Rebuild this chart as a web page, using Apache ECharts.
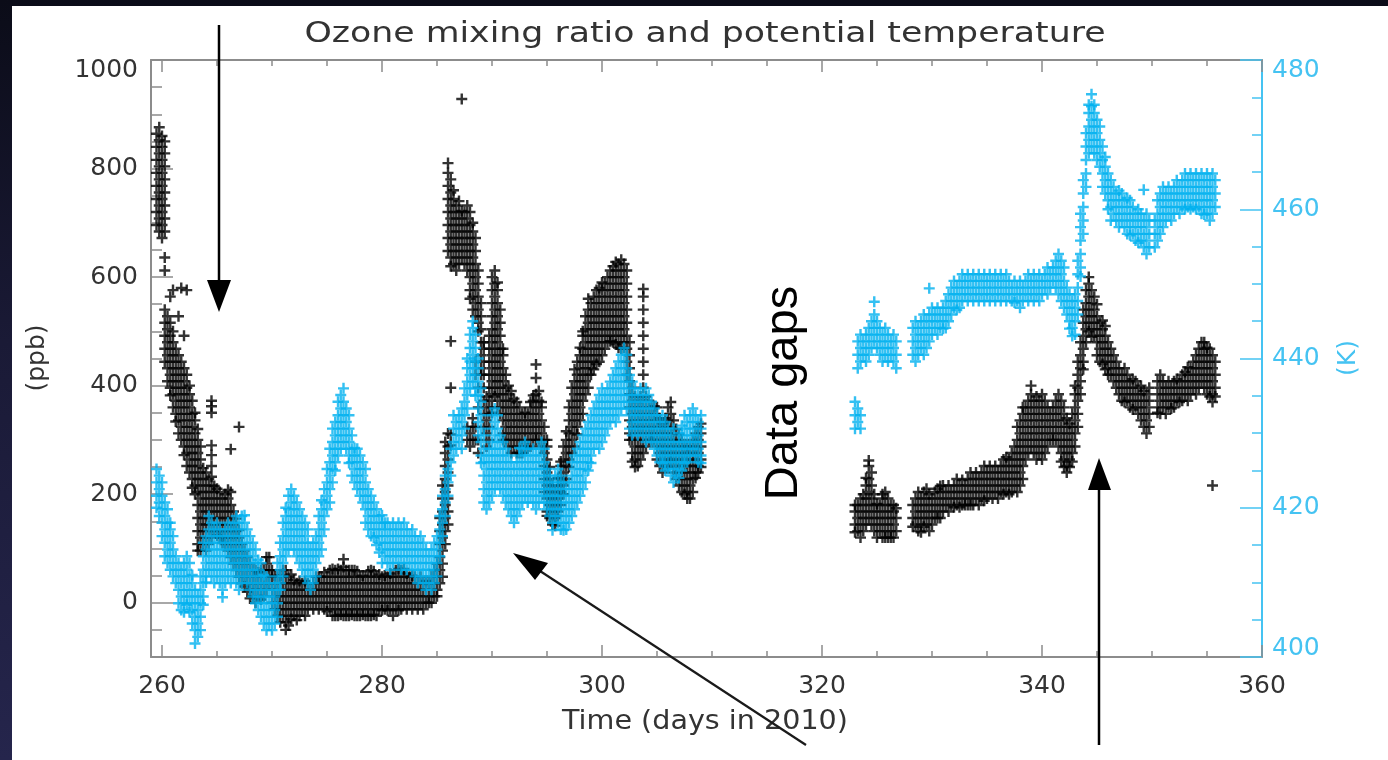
<!DOCTYPE html>
<html>
<head>
<meta charset="utf-8">
<title>Ozone mixing ratio and potential temperature</title>
<script src="https://cdn.jsdelivr.net/npm/echarts@6/dist/echarts.min.js"></script>
<style>
  html, body { margin: 0; padding: 0; }
  body { width: 1388px; height: 760px; background: linear-gradient(180deg, #0b0c18 0%, #1a1a36 45%, #25254c 100%); }
  #main { width: 1388px; height: 760px; }
</style>
</head>
<body>
<div id="main"></div>
<script>
// tick labels
var dayTicks = [260, 280, 300, 320, 340, 360];
var dayMinor = [265, 270, 275, 285, 290, 295, 305, 310, 315, 325, 330, 335, 345, 350, 355];
var ozoneTicks = [0, 200, 400, 600, 800, 1000];
var ozoneMinor = [-50, 50, 100, 150, 250, 300, 350, 450, 500, 550, 650, 700, 750, 850, 900, 950];
var thetaTicks = [400, 420, 440, 460, 480];
var thetaMinor = [405, 410, 415, 425, 430, 435, 445, 450, 455, 465, 470, 475];

// ozone (ppb): each row = [day, readings...]
var ozoneRowsA = [
  [259.5, 696,720,744,768,792,816,840,864],
  [259.75, 684,708,732,756,780,804,828,852,876],
  [260, 672,696,720,744,768,792,816,840,860],
  [260.25, 684,708,732,756,780,804,828,850,612,636,444,468,492,516,540],
  [260.5, 408,432,456,480,504,528],
  [260.75, 396,420,444,468,492,516,564,382],
  [261, 360,384,408,432,456,480,500,576],
  [261.25, 348,372,396,420,444,468,334],
  [261.5, 312,336,360,384,408,432,456,528],
  [261.75, 300,324,348,372,396,420,444,580],
  [262, 288,312,336,360,384,408,432,272,492],
  [262.25, 252,276,300,324,348,372,396,420,576],
  [262.5, 240,264,288,312,336,360,384,400],
  [262.75, 228,252,276,300,324,348,372,212],
  [263, 216,240,264,288,312,336,350,200],
  [263.25, 108,132,156,180,204,228,252,276,300,320,96],
  [263.5, 96,120,144,168,192,216,240,264,288],
  [263.75, 108,132,156,180,204,228,248],
  [264, 96,120,144,168,192,216,240],
  [264.25, 108,132,156,180,204,228],
  [264.5, 120,144,168,192,216,232,252,272,290,350,362,372],
  [264.75, 132,156,180,204,215],
  [265, 124,144,168,192,210],
  [265.25, 132,156,180,204,120],
  [265.5, 120,144,168,192,110],
  [265.75, 108,132,156,180,200],
  [266, 96,120,144,168,192,208],
  [266.25, 84,108,132,156,180,204,283],
  [266.5, 72,96,120,144,168],
  [266.75, 60,84,108,132,155],
  [267, 48,72,96,120,134,324],
  [267.25, 36,60,84,108],
  [267.5, 30,48,72,96],
  [267.75, 20,36,60,84],
  [268, 8,24,48,72],
  [268.25, 12,36,60],
  [268.5, 0,24,48,60],
  [268.75, 12,36,56],
  [269, 6,24,48,60],
  [269.25, 12,36,60],
  [269.5, 24,48,72,84],
  [269.75, 36,60,84],
  [270, 0,24,48,60],
  [270.25, -12,12,36,50],
  [270.5, -24,0,24,48],
  [270.75, -36,-12,12,36,50],
  [271, -24,0,24,48,60],
  [271.25, -50,-36,-12,12,36,60],
  [271.5, -42,-24,0,24,48],
  [271.75, -30,-12,12,36,52],
  [272, -24,0,24,42],
  [272.25, -32,-12,12,36],
  [272.5, -24,0,24,40],
  [272.75, -12,12,36],
  [273, -24,0,24,40],
  [273.25, -12,12,36],
  [273.5, 0,24],
  [273.75, -12,12,36],
  [274, 0,24,48],
  [274.25, -12,12,36,48],
  [274.5, 0,24,48],
  [274.75, -12,12,36,56],
  [275, -16,0,24,48],
  [275.25, -12,12,36,60],
  [275.5, -24,0,24,48,62],
  [275.75, -24,-12,12,36,60],
  [276, -24,0,24,48,62],
  [276.25, -22,-12,12,36,60],
  [276.5, -24,0,24,48,66,80],
  [276.75, -24,-12,12,36,60],
  [277, -24,0,24,48,60],
  [277.25, -22,-12,12,36,60],
  [277.5, -24,0,24,48,60],
  [277.75, -24,-12,12,36,58],
  [278, -24,0,24,48],
  [278.25, -22,-12,12,36,50],
  [278.5, -24,0,24,48],
  [278.75, -24,-12,12,36,58],
  [279, -24,0,24,48,60],
  [279.25, -22,-12,12,36,58],
  [279.5, -24,0,24,48],
  [279.75, -12,12,36,52],
  [280, -14,0,24,48],
  [280.25, -12,12,36,50],
  [280.5, -14,0,24,48],
  [280.75, -12,12,36,54],
  [281, -24,0,24,48],
  [281.25, -12,12,36,60],
  [281.5, -14,0,24,48,62],
  [281.75, -12,12,36,60],
  [282, 0,24,48,62],
  [282.25, -12,12,36,54],
  [282.5, 0,24,48],
  [282.75, -12,12,36,50],
  [283, 0,24,48],
  [283.25, -12,12,36],
  [283.5, 0,24,48],
  [283.75, -12,12,36],
  [284, 0,24,40],
  [284.25, 0,12,36],
  [284.5, 0,24,48],
  [284.75, 12,36,60],
  [285, 12,24,48,72],
  [285.25, 36,60,84,108,132,156],
  [285.5, 48,72,96,120,144,168,192,216],
  [285.75, 108,132,156,180,204,228,252,276,296],
  [286, 144,168,192,216,240,264,288,312,648,672,696,720,744,768,792,810],
  [286.25, 636,660,684,708,732,756,780,620,290,310,396,482],
  [286.5, 624,648,672,696,720,744,760],
  [286.75, 612,636,660,684,708,732],
  [287, 624,648,672,696,720,740],
  [287.25, 636,660,684,708,722,928],
  [287.5, 624,648,672,696,720],
  [287.75, 612,636,660,684,708,732,300,324],
  [288, 576,600,624,648,672,696,720,560,288,312],
  [288.25, 540,564,588,612,636,660,684,700,300,324,340],
  [288.5, 528,552,576,600,624,648,672,300,324,420,444],
  [288.75, 516,540,564,588,612,500,276,300,360,396],
  [289, 432,456,480,504,528,552,420],
  [289.25, 324,348,372,396,420,444,468,480],
  [289.5, 288,312,336,360,380],
  [289.75, 300,324,348,372,396,420,444,468,492],
  [290, 360,384,408,432,456,480,504,528,552,576,600,350],
  [290.25, 396,420,444,468,492,516,540,564,588,612,380],
  [290.5, 360,384,408,432,456,480,504,528,552,576,590],
  [290.75, 348,372,396,420,444,468,492,516,540],
  [291, 312,336,360,384,408,432,456,468,300],
  [291.25, 300,324,348,372,396,420],
  [291.5, 288,312,336,360,384,400],
  [291.75, 276,300,324,348,372,390],
  [292, 288,312,336,360,376],
  [292.25, 276,300,324,348,370],
  [292.5, 288,312,336,360,276],
  [292.75, 276,300,324,348],
  [293, 288,312,336,350],
  [293.25, 300,324,348,284],
  [293.5, 288,312,336,360,370],
  [293.75, 300,324,348,372,382],
  [294, 312,336,360,384,300,414,439],
  [294.25, 300,324,348,372,390],
  [294.5, 288,312,336,360,370],
  [294.75, 204,228,252,276,300,324],
  [295, 168,192,216,240,264,288,300,160],
  [295.25, 156,180,204,228,250],
  [295.5, 144,168,192,216],
  [295.75, 156,180,204,142],
  [296, 168,192,216,230,160],
  [296.25, 180,204,228,252,260],
  [296.5, 216,240,264,288,200],
  [296.75, 228,252,276,300,316],
  [297, 264,288,312,336,360,250],
  [297.25, 276,300,324,348,372,396],
  [297.5, 288,312,336,360,384,408,430],
  [297.75, 324,348,372,396,420,444,310],
  [298, 336,360,384,408,432,456,470],
  [298.25, 348,372,396,420,444,468,492,500],
  [298.5, 384,408,432,456,480,504,528],
  [298.75, 396,420,444,468,492,516,540,560],
  [299, 432,456,480,504,528,552,420],
  [299.25, 444,468,492,516,540,564,430],
  [299.5, 456,480,504,528,552,576,440],
  [299.75, 444,468,492,516,540,564,580],
  [300, 456,480,504,528,552,576,590],
  [300.25, 468,492,516,540,564,588],
  [300.5, 480,504,528,552,576,600],
  [300.75, 492,516,540,564,588,612,482],
  [301, 480,504,528,552,576,600,620],
  [301.25, 492,516,540,564,588,612,628,476],
  [301.5, 480,504,528,552,576,600,624,470],
  [301.75, 468,492,516,540,564,588,612,632],
  [302, 480,504,528,552,576,600,624,470],
  [302.25, 420,444,468,492,516,540,564,588,612],
  [302.5, 312,336,360,384,408,432,456,480,300],
  [302.75, 276,300,324,348,372,396,260],
  [303, 264,288,312,336,360,380,250],
  [303.25, 252,276,300,324,348,370],
  [303.5, 264,288,312,336,360,380],
  [303.75, 276,300,324,348,372,396,420,444,468,492,516,540,564,578],
  [304, 288,312,336,360,380],
  [304.25, 300,324,348,372],
  [304.5, 312,336,360,300],
  [304.75, 300,324,348,362],
  [305, 264,288,312,336,360],
  [305.25, 252,276,300,324,340],
  [305.5, 240,264,288,312,330],
  [305.75, 252,276,300,324,340],
  [306, 264,288,312,336,360,250],
  [306.25, 276,300,324,348,370,260],
  [306.5, 240,264,288,312,336],
  [306.75, 228,252,276,300,320],
  [307, 216,240,264,288,310],
  [307.25, 204,228,252,276,300],
  [307.5, 216,240,264,288,200],
  [307.75, 204,228,252,276,192,288],
  [308, 192,216,240,264,288],
  [308.25, 204,228,252,276,300],
  [308.5, 240,264,288,312,230],
  [308.75, 252,276,300,324,240],
  [309, 264,288,312,330,250]
];

var ozoneRowsB = [
  [323, 144,168,130,180],
  [323.25, 132,156,180],
  [323.5, 120,144,168,192],
  [323.75, 132,156,180,200],
  [324, 144,168,192,216,230],
  [324.25, 156,180,204,228,252,262],
  [324.5, 144,168,192,216,240],
  [324.75, 132,156,180,200],
  [325, 120,144,168,182],
  [325.25, 132,156,180],
  [325.5, 120,144,168,192,200],
  [325.75, 132,156,180,204,120],
  [326, 120,144,168,192],
  [326.25, 132,156,180,120],
  [326.5, 120,144,168,180],
  [326.75, 132,156,174],
  [328.25, 156,180,140],
  [328.5, 144,168,192],
  [328.75, 132,156,180,204],
  [329, 144,168,192,130],
  [329.25, 156,180,204,140],
  [329.5, 144,168,192,210],
  [329.75, 132,156,180,200],
  [330, 144,168,192],
  [330.25, 156,180,204],
  [330.5, 168,192,210,156],
  [330.75, 156,180,204,215],
  [331, 168,192,216],
  [331.25, 180,204],
  [331.5, 168,192,216],
  [331.75, 180,204],
  [332, 176,192,216],
  [332.25, 180,204,228],
  [332.5, 176,192,216],
  [332.75, 180,204,226],
  [333, 180,192,216],
  [333.25, 180,204,228],
  [333.5, 180,192,216,240],
  [333.75, 180,204,228],
  [334, 192,216,240],
  [334.25, 180,204,228],
  [334.5, 192,216,240],
  [334.75, 188,204,228,252],
  [335, 192,216,240],
  [335.25, 204,228,252],
  [335.5, 192,216,240],
  [335.75, 204,228,252],
  [336, 192,216,240],
  [336.25, 204,228,252],
  [336.5, 200,216,240,264],
  [336.75, 204,228,252,268],
  [337, 200,216,240,264],
  [337.25, 204,228,252,276],
  [337.5, 216,240,264,288],
  [337.75, 204,228,252,276,300,324],
  [338, 216,240,264,288,312,336],
  [338.25, 228,252,276,300,324,348,360],
  [338.5, 264,288,312,336,360],
  [338.75, 276,300,324,348,372],
  [339, 288,312,336,360,384,400],
  [339.25, 276,300,324,348,372],
  [339.5, 264,288,312,336,360,380],
  [339.75, 276,300,324,348,372],
  [340, 264,288,312,336,360,384],
  [340.25, 276,300,324,348,372],
  [340.5, 288,312,336,360],
  [340.75, 300,324,348],
  [341, 312,336,360,300],
  [341.25, 300,324,348,372],
  [341.5, 288,312,336,360,384],
  [341.75, 276,300,324,348,372,260],
  [342, 264,288,312,336,360,250],
  [342.25, 252,276,300,324,240,340],
  [342.5, 264,288,312,250,330],
  [342.75, 276,300,324,348,260],
  [343, 288,312,336,360,384,400],
  [343.25, 324,348,372,396,420,444],
  [343.5, 384,408,432,456,480],
  [343.75, 444,468,492,516,540,430],
  [344, 480,504,528,552,576],
  [344.25, 516,540,564,588,500,600],
  [344.5, 504,528,552,576,490],
  [344.75, 492,516,540,564],
  [345, 456,480,504,528,550],
  [345.25, 444,468,492,516],
  [345.5, 456,480,504,440,520],
  [345.75, 444,468,492,430,510],
  [346, 432,456,480,420],
  [346.25, 420,444,468],
  [346.5, 408,432,456],
  [346.75, 396,420,444],
  [347, 384,408,432],
  [347.25, 372,396,420],
  [347.5, 384,408,432,370],
  [347.75, 372,396,420],
  [348, 360,384,408],
  [348.25, 356,372,396,412],
  [348.5, 360,384,408],
  [348.75, 348,372,396],
  [349, 336,360,384,400],
  [349.25, 324,348,372,390],
  [349.5, 312,336,360,384],
  [349.75, 324,348,372,396],
  [350.5, 360,384,408,350],
  [350.75, 348,372,396,420],
  [351, 360,384,408],
  [351.25, 348,372,396],
  [351.5, 360,384,408],
  [351.75, 372,396,358],
  [352, 360,384,408],
  [352.25, 372,396,412],
  [352.5, 384,408,370],
  [352.75, 372,396,420],
  [353, 384,408,425],
  [353.25, 372,396,420,434],
  [353.5, 384,408,432],
  [353.75, 396,420,444],
  [354, 384,408,432,456],
  [354.25, 396,420,444,468],
  [354.5, 408,432,456,480],
  [354.75, 396,420,444,468,480],
  [355, 384,408,432,456,470],
  [355.25, 396,420,444,468,380],
  [355.5, 384,408,432,456,370,216],
  [355.75, 396,420,444,380]
];

// potential temperature (K): each row = [day, readings...]
var thetaRowsA = [
  [259.5, 421.6,423.4,425.2,420],
  [259.75, 418.9,420.7,422.5,424.3],
  [260, 416.2,418,419.8,421.6,423.4],
  [260.25, 413.5,415.3,417.1,418.9,420.7],
  [260.5, 412.6,414.4,416.2,418,419.8],
  [260.75, 411.7,413.5,415.3,417.1,418],
  [261, 410.8,412.6,414.4,416.2],
  [261.25, 409.9,411.7,413.5],
  [261.5, 407.2,409,410.8,412.6],
  [261.75, 406.3,408.1,409.9,411.7],
  [262, 407.2,409,410.8,412.6,406],
  [262.25, 408.1,409.9,411.7,413.5,407],
  [262.5, 407.2,409,410.8,412.6,406],
  [262.75, 404.5,406.3,408.1,409.9,411],
  [263, 401.8,403.6,405.4,407.2,409],
  [263.25, 402.7,404.5,406.3,408.1],
  [263.5, 403.6,405.4,407.2,409,410.8],
  [263.75, 408.1,409.9,411.7,413.5,415.3,407],
  [264, 410.8,412.6,414.4,416.2,410],
  [264.25, 411.7,413.5,415.3,417.1,418.9],
  [264.5, 410.8,412.6,414.4,416.2,418],
  [264.75, 409.9,411.7,413.5,415.3,417.1],
  [265, 410.8,412.6,414.4,416.2,418],
  [265.25, 409.9,411.7,413.5,415.3,417.1],
  [265.5, 409,410.8,412.6,414.4,416.2,408],
  [265.75, 409.9,411.7,413.5,415.3,417.1],
  [266, 410.8,412.6,414.4,416.2,418],
  [266.25, 409.9,411.7,413.5,415.3,417.1],
  [266.5, 410.8,412.6,414.4,416.2,418],
  [266.75, 409.9,411.7,413.5,415.3,417.1,418.9],
  [267, 409,410.8,412.6,414.4,416.2,418],
  [267.25, 409.9,411.7,413.5,415.3,417.1,418.9],
  [267.5, 410.8,412.6,414.4,416.2,418,419],
  [267.75, 409.9,411.7,413.5,415.3,417.1],
  [268, 409,410.8,412.6,414.4,416.2],
  [268.25, 408.1,409.9,411.7,413.5,415.3],
  [268.5, 407.2,409,410.8,412.6,414.4],
  [268.75, 406.3,408.1,409.9,411.7,413],
  [269, 405.4,407.2,409,410.8,412.6],
  [269.25, 404.5,406.3,408.1,409.9,411],
  [269.5, 403.6,405.4,407.2,409,410.8],
  [269.75, 404.5,406.3,408.1,409.9],
  [270, 403.6,405.4,407.2,409],
  [270.25, 404.5,406.3,408.1,409.9],
  [270.5, 405.4,407.2,409,410.8,412.6],
  [270.75, 409.9,411.7,413.5,415.3,409],
  [271, 410.8,412.6,414.4,416.2,418],
  [271.25, 413.5,415.3,417.1,418.9,420],
  [271.5, 414.4,416.2,418,419.8,421.6],
  [271.75, 415.3,417.1,418.9,420.7,422.5],
  [272, 414.4,416.2,418,419.8,421.6],
  [272.25, 413.5,415.3,417.1,418.9,420.7],
  [272.5, 412.6,414.4,416.2,418,419.8],
  [272.75, 411.7,413.5,415.3,417.1,418.9],
  [273, 410.8,412.6,414.4,416.2,418],
  [273.25, 409.9,411.7,413.5,415.3,417.1],
  [273.5, 409,410.8,412.6,414.4],
  [273.75, 409.9,411.7,413.5,415.3],
  [274, 410.8,412.6,414.4,416.2],
  [274.25, 413.5,415.3,417.1,418.9],
  [274.5, 414.4,416.2,418,419.8,421],
  [274.75, 417.1,418.9,420.7,422.5],
  [275, 419.8,421.6,423.4,425.2],
  [275.25, 420.7,422.5,424.3,426.1,427.9],
  [275.5, 423.4,425.2,427,428.8,430.6],
  [275.75, 426.1,427.9,429.7,431.5,425],
  [276, 427,428.8,430.6,432.4,434.2],
  [276.25, 427.9,429.7,431.5,433.3,435.1],
  [276.5, 428.8,430.6,432.4,434.2,436],
  [276.75, 427.9,429.7,431.5,433.3],
  [277, 427,428.8,430.6,432.4,426],
  [277.25, 424.3,426.1,427.9,429.7],
  [277.5, 423.4,425.2,427,428],
  [277.75, 422.5,424.3,426.1,427.9],
  [278, 421.6,423.4,425.2,427],
  [278.25, 420.7,422.5,424.3,426.1],
  [278.5, 418,419.8,421.6,423.4,425.2],
  [278.75, 417.1,418.9,420.7,422.5],
  [279, 416.2,418,419.8,421.6],
  [279.25, 417.1,418.9,420.7,416],
  [279.5, 416.2,418,419.8,415],
  [279.75, 415.3,417.1,418.9,414],
  [280, 412.6,414.4,416.2,418,419],
  [280.25, 413.5,415.3,417.1,418],
  [280.5, 412.6,414.4,416.2,418],
  [280.75, 411.7,413.5,415.3,417.1],
  [281, 412.6,414.4,416.2,418],
  [281.25, 413.5,415.3,417.1],
  [281.5, 412.6,414.4,416.2,418],
  [281.75, 411.7,413.5,415.3,417.1],
  [282, 412.6,414.4,416.2,418],
  [282.25, 411.7,413.5,415.3,417.1],
  [282.5, 412.6,414.4,416.2],
  [282.75, 411.7,413.5,415.3,417.1],
  [283, 410.8,412.6,414.4,416.2],
  [283.25, 409.9,411.7,413.5,415.3],
  [283.5, 410.8,412.6,414.4,416.2],
  [283.75, 409.9,411.7,413.5,415.3],
  [284, 409,410.8,412.6,414.4],
  [284.25, 409.9,411.7,413.5],
  [284.5, 409,410.8,412.6,414.4],
  [284.75, 409.9,411.7,413.5,415.3],
  [285, 410.8,412.6,414.4,416.2],
  [285.25, 413.5,415.3,417.1,418.9],
  [285.5, 416.2,418,419.8,421.6],
  [285.75, 418.9,420.7,422.5,424.3],
  [286, 421.6,423.4,425.2],
  [286.25, 424.3,426.1,427.9],
  [286.5, 427,428.8,430.6,432.4],
  [286.75, 427.9,429.7,431.5],
  [287, 428.8,430.6,432.4],
  [287.25, 427.9,429.7,431.5,433.3],
  [287.5, 430.6,432.4,434.2,436],
  [287.75, 433.3,435.1,436.9,438.7,440],
  [288, 436,437.8,439.6,441.4,443.2],
  [288.25, 436.9,438.7,440.5,442.3,444.1,445],
  [288.5, 436,437.8,439.6,441.4,443.2,435],
  [288.75, 429.7,431.5,433.3,435.1,436.9,438.7,440],
  [289, 427,428.8,430.6,432.4,434.2,436,426],
  [289.25, 420.7,422.5,424.3,426.1,427.9,429.7],
  [289.5, 419.8,421.6,423.4,425.2,427],
  [289.75, 420.7,422.5,424.3,426.1,427.9],
  [290, 421.6,423.4,425.2,427,428.8,430.6,432.4],
  [290.25, 422.5,424.3,426.1,427.9,429.7,431.5,433.3],
  [290.5, 423.4,425.2,427,428.8,430.6,432.4],
  [290.75, 422.5,424.3,426.1,427.9,429.7],
  [291, 421.6,423.4,425.2,427,428.8],
  [291.25, 420.7,422.5,424.3,426.1,427.9],
  [291.5, 419.8,421.6,423.4,425.2,427],
  [291.75, 418.9,420.7,422.5,424.3,426.1],
  [292, 418,419.8,421.6,423.4,425.2],
  [292.25, 418.9,420.7,422.5,424.3,426.1],
  [292.5, 419.8,421.6,423.4,425.2,427,428],
  [292.75, 420.7,422.5,424.3,426.1,427.9],
  [293, 421.6,423.4,425.2,427,428.8],
  [293.25, 420.7,422.5,424.3,426.1,427.9],
  [293.5, 421.6,423.4,425.2,427],
  [293.75, 420.7,422.5,424.3,426.1,427.9],
  [294, 419.8,421.6,423.4,425.2,427],
  [294.25, 420.7,422.5,424.3,426.1,427.9],
  [294.5, 421.6,423.4,425.2,427,428.8],
  [294.75, 420.7,422.5,424.3,426.1,427.9],
  [295, 419.8,421.6,423.4,425.2],
  [295.25, 418.9,420.7,422.5,424.3],
  [295.5, 418,419.8,421.6,423.4,417],
  [295.75, 418.9,420.7,422.5,424.3],
  [296, 418,419.8,421.6,423.4,425.2],
  [296.25, 417.1,418.9,420.7,422.5,424.3],
  [296.5, 418,419.8,421.6,423.4,417],
  [296.75, 417.1,418.9,420.7,422.5],
  [297, 418,419.8,421.6,423.4],
  [297.25, 418.9,420.7,422.5,424.3,426.1],
  [297.5, 419.8,421.6,423.4,425.2,427],
  [297.75, 420.7,422.5,424.3,426.1,427.9],
  [298, 421.6,423.4,425.2,427,428.8],
  [298.25, 422.5,424.3,426.1,427.9,429.7],
  [298.5, 423.4,425.2,427,428.8,430.6],
  [298.75, 426.1,427.9,429.7,431.5,425],
  [299, 427,428.8,430.6,432.4,426],
  [299.25, 427.9,429.7,431.5,433.3],
  [299.5, 428.8,430.6,432.4,434.2],
  [299.75, 427.9,429.7,431.5,433.3,435.1],
  [300, 428.8,430.6,432.4,434.2,436],
  [300.25, 429.7,431.5,433.3,435.1],
  [300.5, 430.6,432.4,434.2,436],
  [300.75, 431.5,433.3,435.1,436.9],
  [301, 432.4,434.2,436,437.8],
  [301.25, 431.5,433.3,435.1,436.9,438.7],
  [301.5, 432.4,434.2,436,437.8,439.6],
  [301.75, 433.3,435.1,436.9,438.7,440.5],
  [302, 434.2,436,437.8,439.6,441.4],
  [302.25, 433.3,435.1,436.9,438.7,440.5],
  [302.5, 430.6,432.4,434.2,436,437.8],
  [302.75, 429.7,431.5,433.3,435.1,436.9],
  [303, 430.6,432.4,434.2,436],
  [303.25, 429.7,431.5,433.3,435.1],
  [303.5, 430.6,432.4,434.2,436],
  [303.75, 429.7,431.5,433.3,435.1],
  [304, 428.8,430.6,432.4,434.2,436],
  [304.25, 429.7,431.5,433.3,435.1],
  [304.5, 428.8,430.6,432.4,434.2],
  [304.75, 427.9,429.7,431.5,433.3],
  [305, 427,428.8,430.6,432.4],
  [305.25, 426.1,427.9,429.7,431.5],
  [305.5, 427,428.8,430.6,432.4,426],
  [305.75, 426.1,427.9,429.7,431.5,425],
  [306, 425.2,427,428.8,430.6],
  [306.25, 424.3,426.1,427.9,429.7],
  [306.5, 423.4,425.2,427,428.8,430.6],
  [306.75, 424.3,426.1,427.9],
  [307, 425.2,427,428.8,424,430],
  [307.25, 426.1,427.9,429.7,425,431],
  [307.5, 427,428.8,430.6,432.4,426],
  [307.75, 426.1,427.9,429.7,431.5],
  [308, 427,428.8,430.6,432.4],
  [308.25, 427.9,429.7,431.5,433.3],
  [308.5, 427,428.8,430.6,432.4],
  [308.75, 426.1,427.9,429.7,431.5],
  [309, 427,428.8,430.6,432.4,426]
];

var thetaRowsB = [
  [323, 430.6,432.4,434.2],
  [323.25, 431.5,433.3,438.7,440.5,442.3],
  [323.5, 430.6,432.4,439.6,441.4,443.2],
  [323.75, 440.5,442.3],
  [324, 439.6,441.4,443.2],
  [324.25, 440.5,442.3,444.1],
  [324.5, 441.4,443.2,445],
  [324.75, 442.3,444.1,445.9,447.6],
  [325, 441.4,443.2,445],
  [325.25, 440.5,442.3,444.1],
  [325.5, 439.6,441.4,443.2],
  [325.75, 440.5,442.3,444.1],
  [326, 439.6,441.4,443.2],
  [326.25, 440.5,442.3],
  [326.5, 439.6,441.4,443.2],
  [326.75, 438.7,440.5,442.3],
  [328.25, 440.5,442.3,444.1],
  [328.5, 439.6,441.4,443.2,445],
  [328.75, 440.5,442.3,444.1],
  [329, 441.4,443.2,445],
  [329.25, 440.5,442.3,444.1,445.9],
  [329.5, 441.4,443.2,445],
  [329.75, 442.3,444.1,445.9,449.4],
  [330, 443.2,445,446.8],
  [330.25, 444.1,445.9],
  [330.5, 443.2,445,446.8],
  [330.75, 444.1,445.9],
  [331, 445,446.8,444],
  [331.25, 444.1,445.9,447.7],
  [331.5, 445,446.8,448.6],
  [331.75, 445.9,447.7,449.5],
  [332, 446.8,448.6,450.4],
  [332.25, 447.7,449.5,446.5],
  [332.5, 446.8,448.6,450.4],
  [332.75, 447.7,449.5,451.3],
  [333, 448.6,450.4],
  [333.25, 447.7,449.5,451.3],
  [333.5, 448.6,450.4],
  [333.75, 447.7,449.5,451.3],
  [334, 448.6,450.4],
  [334.25, 447.7,449.5,451.3],
  [334.5, 448.6,450.4],
  [334.75, 447.7,449.5,451.3],
  [335, 448.6,450.4],
  [335.25, 447.7,449.5,451.3],
  [335.5, 448.6,450.4],
  [335.75, 447.7,449.5,451.3],
  [336, 448.6,450.4],
  [336.25, 447.7,449.5,451.3],
  [336.5, 448.6,450.4],
  [336.75, 447.7,449.5,451.3],
  [337, 448.6,450.4],
  [337.25, 447.7,449.5],
  [337.5, 448.6,450.4,447.5],
  [337.75, 447.7,449.5],
  [338, 446.8,448.6,450.4],
  [338.25, 447.7,449.5],
  [338.5, 448.6,450.4],
  [338.75, 447.7,449.5,451.3],
  [339, 448.6,450.4],
  [339.25, 447.7,449.5,451.3],
  [339.5, 448.6,450.4],
  [339.75, 447.7,449.5,451.3],
  [340, 448.6,450.4],
  [340.25, 449.5,451.3],
  [340.5, 448.6,450.4,452.2],
  [340.75, 449.5,451.3],
  [341, 450.4,452.2],
  [341.25, 449.5,451.3,453.1],
  [341.5, 448.6,450.4,452.2,454],
  [341.75, 447.7,449.5,451.3,453.1],
  [342, 446.8,448.6,450.4,452.2],
  [342.25, 445.9,447.7,449.5],
  [342.5, 445,446.8,448.6,444],
  [342.75, 444.1,445.9,447.7,443],
  [343, 443.2,445,446.8,448.6],
  [343.25, 445.9,447.7,449.5,451.3,453.1],
  [343.5, 452.2,454,455.8,457.6,459.4,451],
  [343.75, 456.7,458.5,460.3,462.1,463.9],
  [344, 463,464.8,466.6,468.4,470.2],
  [344.25, 467.5,469.3,471.1,472.9,474],
  [344.5, 468.4,470.2,472,473.8,475.4],
  [344.75, 467.5,469.3,471.1,472.9,474],
  [345, 466.6,468.4,470.2,472],
  [345.25, 465.7,467.5,469.3,471.1],
  [345.5, 463,464.8,466.6,468.4],
  [345.75, 462.1,463.9,465.7,467],
  [346, 461.2,463,464.8,460],
  [346.25, 458.5,460.3,462.1,463.9],
  [346.5, 459.4,461.2,463],
  [346.75, 458.5,460.3,462.1],
  [347, 457.6,459.4,461.2,462.5],
  [347.25, 458.5,460.3,462.1],
  [347.5, 457.6,459.4,461.2],
  [347.75, 456.7,458.5,460.3,461.5],
  [348, 457.6,459.4,461.2,456.5],
  [348.25, 456.7,458.5,460.3],
  [348.5, 455.8,457.6,459.4],
  [348.75, 456.7,458.5,455.5,460],
  [349, 455.8,457.6,459.4],
  [349.25, 454.9,456.7,458.5,462.6],
  [349.5, 454,455.8,457.6,459.4],
  [349.75, 454.9,456.7,458.5],
  [350.25, 454.9,456.7,458.5],
  [350.5, 455.8,457.6,459.4,461.2],
  [350.75, 456.7,458.5,460.3,462.1],
  [351, 457.6,459.4,461.2,463],
  [351.25, 458.5,460.3,462.1],
  [351.5, 459.4,461.2,463],
  [351.75, 458.5,460.3,462.1],
  [352, 459.4,461.2,463],
  [352.25, 460.3,462.1,463.9],
  [352.5, 459.4,461.2,463],
  [352.75, 460.3,462.1,463.9],
  [353, 461.2,463,464.8,460],
  [353.25, 460.3,462.1,463.9],
  [353.5, 461.2,463,464.8,460],
  [353.75, 460.3,462.1,463.9],
  [354, 461.2,463,464.8,460],
  [354.25, 460.3,462.1,463.9],
  [354.5, 459.4,461.2,463,464.8],
  [354.75, 460.3,462.1,463.9,459.3],
  [355, 459.4,461.2,463,464.8],
  [355.25, 458.5,460.3,462.1,463.9],
  [355.5, 459.4,461.2,463,464.8],
  [355.75, 460.3,462.1,463.9]
];

// rows -> [x, y] pairs
function toPoints(rows) {
  var out = [];
  rows.forEach(function (r) {
    for (var i = 1; i < r.length; i++) out.push([r[0], r[i]]);
  });
  return out;
}
var ozoneData = toPoints(ozoneRowsA).concat(toPoints(ozoneRowsB));
var thetaData = toPoints(thetaRowsA).concat(toPoints(thetaRowsB));

var GRAY = '#8c8c8c';
var TEXT = '#333333';
var SKY = '#00b0ef';
var SKY_AXIS = '#45c3f2';
var FONT = 'DejaVu Sans';
// "+" marker, arms 22% of the symbol size
var PLUS = 'path://M3.9,0H6.1V3.9H10V6.1H6.1V10H3.9V6.1H0V3.9H3.9Z';

var myChart = echarts.init(document.getElementById('main'), null, { renderer: 'canvas' });

// the end labels sit inside the frame, like the original plot
function edgeLabel(v, top, bottom) {
  if (v === top) return '{top|' + v + '}';
  if (v === bottom) return '{bot|' + v + '}';
  return String(v);
}
function richFor(color) {
  return {
    top: { padding: [20, 0, 0, 0], fontSize: 25, color: color, fontFamily: FONT },
    bot: { padding: [0, 0, 18, 0], fontSize: 25, color: color, fontFamily: FONT }
  };
}

function xAxisCfg(pos, values, len, showLine, showLabel) {
  return {
    type: 'value', min: 259, max: 360, position: pos,
    axisLine: { show: showLine, onZero: false, lineStyle: { color: GRAY, width: 2 } },
    axisTick: { show: true, inside: true, length: len, customValues: values, lineStyle: { color: GRAY, width: 1.5 } },
    axisLabel: { show: showLabel, customValues: values, margin: 17, fontSize: 25, color: TEXT, fontFamily: FONT },
    splitLine: { show: false }
  };
}
function yAxisCfg(pos, min, max, values, len, color, labelColor, showLine, showLabel, margin, fmt) {
  return {
    type: 'value', min: min, max: max, position: pos,
    axisLine: { show: showLine, onZero: false, lineStyle: { color: color, width: 2 } },
    axisTick: { show: true, inside: true, length: len, customValues: values, lineStyle: { color: color, width: 1.5 } },
    axisLabel: {
      show: showLabel, customValues: values, margin: margin, fontSize: 25, color: labelColor, fontFamily: FONT,
      formatter: fmt, rich: richFor(labelColor)
    },
    splitLine: { show: false }
  };
}

var option = {
  animation: false,
  backgroundColor: 'transparent',
  grid: { left: 151, top: 60, width: 1111, height: 597, containLabel: false },
  xAxis: [
    xAxisCfg('bottom', dayTicks, 12, true, true),
    xAxisCfg('bottom', dayMinor, 6, false, false),
    xAxisCfg('top', dayTicks, 12, true, false),
    xAxisCfg('top', dayMinor, 6, false, false)
  ],
  yAxis: [
    yAxisCfg('left', -100, 1000, ozoneTicks, 22, GRAY, TEXT, true, true, 13, function (v) { return edgeLabel(v, 1000, null); }),
    yAxisCfg('left', -100, 1000, ozoneMinor, 11, GRAY, TEXT, false, false, 13, null),
    yAxisCfg('right', 400, 480, thetaTicks, 22, SKY_AXIS, SKY_AXIS, true, true, 10, function (v) { return edgeLabel(v, 480, 400); }),
    yAxisCfg('right', 400, 480, thetaMinor, 10, SKY_AXIS, SKY_AXIS, false, false, 10, null)
  ],
  series: [
    {
      name: 'ozone', type: 'scatter', xAxisIndex: 0, yAxisIndex: 0,
      data: ozoneData, symbol: PLUS, symbolSize: 11,
      itemStyle: { color: '#000000' }, silent: true, progressive: 0, z: 2
    },
    {
      name: 'theta', type: 'scatter', xAxisIndex: 0, yAxisIndex: 2,
      data: thetaData, symbol: PLUS, symbolSize: 11,
      itemStyle: { color: SKY }, silent: true, progressive: 0, z: 3
    }
  ],
  graphic: [
    // slide panel
    { type: 'rect', shape: { x: 12, y: 6, width: 1376, height: 754 }, style: { fill: '#ffffff' }, z: -10, silent: true },
    // title and axis names
    { type: 'text', x: 705, y: 35, scaleX: 1.24, z: 10, style: { text: 'Ozone mixing ratio and potential temperature', fill: TEXT, font: '28px "DejaVu Sans"', textAlign: 'center', textVerticalAlign: 'middle' } },
    { type: 'text', x: 705, y: 722, scaleX: 1.1, z: 10, style: { text: 'Time (days in 2010)', fill: TEXT, font: '26px "DejaVu Sans"', textAlign: 'center', textVerticalAlign: 'middle' } },
    { type: 'text', x: 37, y: 358, rotation: Math.PI / 2, z: 10, style: { text: '(ppb)', fill: TEXT, font: '25px "DejaVu Sans"', textAlign: 'center', textVerticalAlign: 'middle' } },
    { type: 'text', x: 1348, y: 358, rotation: Math.PI / 2, z: 10, style: { text: '(K)', fill: SKY_AXIS, font: '25px "DejaVu Sans"', textAlign: 'center', textVerticalAlign: 'middle' } },
    // annotation
    { type: 'text', x: 784, y: 393, rotation: Math.PI / 2, z: 10, style: { text: 'Data gaps', fill: '#000', font: '47px "Liberation Sans"', textAlign: 'center', textVerticalAlign: 'middle' } },
    // arrows
    { type: 'line', z: 10, shape: { x1: 219, y1: 25, x2: 219, y2: 284 }, style: { stroke: '#000', lineWidth: 2.5 } },
    { type: 'polygon', z: 10, shape: { points: [[207, 280], [231, 280], [219, 312]] }, style: { fill: '#000' } },
    { type: 'line', z: 10, shape: { x1: 806, y1: 745, x2: 540, y2: 571 }, style: { stroke: '#1a1a1a', lineWidth: 2.2 } },
    { type: 'polygon', z: 10, shape: { points: [[513, 553], [548, 563], [535, 580]] }, style: { fill: '#000' } },
    { type: 'line', z: 10, shape: { x1: 1099, y1: 745, x2: 1099, y2: 488 }, style: { stroke: '#000', lineWidth: 2.5 } },
    { type: 'polygon', z: 10, shape: { points: [[1088, 490], [1111, 490], [1099, 458]] }, style: { fill: '#000' } }
  ]
};

myChart.setOption(option);
</script>
</body>
</html>
